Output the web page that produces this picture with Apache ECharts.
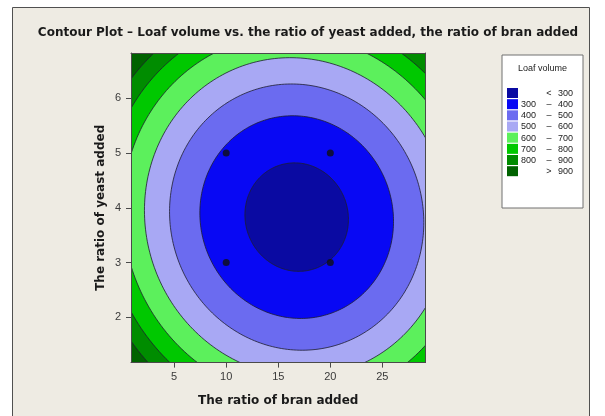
<!DOCTYPE html>
<html>
<head>
<meta charset="utf-8">
<script src="https://cdn.jsdelivr.net/npm/echarts@6/dist/echarts.min.js"></script>
<style>
  html, body { margin: 0; padding: 0; background: #ffffff; }
  #chart { width: 605px; height: 416px; }
</style>
</head>
<body>
<div id="chart"></div>
<script>
// Loaf volume contour levels (upper edge of each band)
const bandLevels = [300, 400, 500, 600, 700, 800, 900];
// Band fills, innermost (< 300) to outermost (> 900)
const bandColors = ['#0A0AA2', '#0808F4', '#6B6BF0', '#A8A8F4', '#5CF05C', '#00C800', '#008C00', '#006200'];

// Centre of the closed contours and the half-extent of each level's contour
const centreBran = 16.77;
const centreYeast = 3.83;
const contourHalfBran = [4.97, 9.30, 12.21, 14.62, 16.72, 18.45, 19.95];
const contourHalfYeast = [0.99, 1.85, 2.43, 2.91, 3.33, 3.67, 3.97];
// slight tilt: yeast offset per unit of bran away from the centre
const contourTilt = -0.0082;

// Design runs
const runBran = [10, 20, 10, 20];
const runYeast = [5, 5, 3, 3];

// Axis ranges and tick values
const branRange = [0.858, 29.142];
const yeastRange = [1.172, 6.828];
const branTicks = [5, 10, 15, 20, 25];
const yeastTicks = [2, 3, 4, 5, 6];

const chart = echarts.init(document.getElementById('chart'), null, { renderer: 'canvas' });

const UI_FONT = 'Liberation Sans, Arial, sans-serif';
const HEAD_FONT = 'DejaVu Sans, Verdana, sans-serif';

// contour items: the outer background band first, then each closed contour from the outside in
const contourItems = [{ value: [centreBran, centreYeast, bandLevels.length] }];
for (let k = bandLevels.length - 1; k >= 0; k--) {
  contourItems.push({ value: [centreBran, centreYeast, k] });
}

function bandLabel(i) {
  if (i === 0) return ['', '<', String(bandLevels[0])];
  if (i === bandLevels.length) return ['', '>', String(bandLevels[bandLevels.length - 1])];
  return [String(bandLevels[i - 1]), '\u2013', String(bandLevels[i])];
}

// legend drawn as graphics
const legendX = 502, legendY = 55, legendW = 81, legendH = 153;
const legendGraphics = [
  { type: 'rect', shape: { x: legendX, y: legendY, width: legendW, height: legendH },
    style: { fill: '#ffffff', stroke: '#707070', lineWidth: 1 }, z: 10 },
  { type: 'text', x: legendX + legendW / 2, y: legendY + 14, z: 11,
    style: { text: 'Loaf volume', fill: '#222', font: '9px ' + UI_FONT, textAlign: 'center', textVerticalAlign: 'middle' } }
];
for (let i = 0; i <= bandLevels.length; i++) {
  const rowY = legendY + 33 + i * 11.17;
  const parts = bandLabel(i);
  legendGraphics.push(
    { type: 'rect', shape: { x: legendX + 5, y: rowY, width: 11, height: 10 },
      style: { fill: bandColors[i] }, z: 11 },
    { type: 'text', x: legendX + 34, y: rowY + 5.5, z: 11,
      style: { text: parts[0], fill: '#222', font: '9px ' + UI_FONT, textAlign: 'right', textVerticalAlign: 'middle' } },
    { type: 'text', x: legendX + 47, y: rowY + 5.5, z: 11,
      style: { text: parts[1], fill: '#222', font: '9px ' + UI_FONT, textAlign: 'center', textVerticalAlign: 'middle' } },
    { type: 'text', x: legendX + 71, y: rowY + 5.5, z: 11,
      style: { text: parts[2], fill: '#222', font: '9px ' + UI_FONT, textAlign: 'right', textVerticalAlign: 'middle' } }
  );
}

const frameAxis = {
  show: true,
  z: 6,
  axisLine: { show: true, onZero: false, lineStyle: { color: '#4a4a4a', width: 1 } },
  axisTick: { show: false },
  axisLabel: { show: false },
  splitLine: { show: false }
};

const option = {
  animation: false,
  backgroundColor: '#ffffff',
  graphic: [
    { type: 'rect', shape: { x: 12.5, y: 7.5, width: 577, height: 420 },
      style: { fill: '#EEEBE3', stroke: '#505050', lineWidth: 1 }, z: 0 },
    { type: 'text', x: 308, y: 33, z: 1,
      style: { text: 'Contour Plot \u2013 Loaf volume vs. the ratio of yeast added, the ratio of bran added',
        fill: '#1a1a1a', font: 'bold 12px ' + HEAD_FONT, textAlign: 'center', textVerticalAlign: 'middle' } }
  ].concat(legendGraphics),
  grid: { left: 131, right: 179.5, top: 53, bottom: 53.4, containLabel: false },
  xAxis: [
    {
      type: 'value', min: branRange[0], max: branRange[1], position: 'bottom', z: 6,
      name: 'The ratio of bran added', nameLocation: 'middle', nameGap: 32,
      nameTextStyle: { color: '#1a1a1a', fontFamily: HEAD_FONT, fontWeight: 'bold', fontSize: 12 },
      axisLine: { show: true, onZero: false, lineStyle: { color: '#4a4a4a', width: 1 } },
      axisTick: { show: true, length: 5, lineStyle: { color: '#4a4a4a' }, customValues: branTicks },
      axisLabel: { show: true, margin: 9, color: '#3a3a3a', fontFamily: UI_FONT, fontSize: 11, customValues: branTicks },
      splitLine: { show: false }
    },
    Object.assign({ type: 'value', min: branRange[0], max: branRange[1], position: 'top' }, frameAxis)
  ],
  yAxis: [
    {
      type: 'value', min: yeastRange[0], max: yeastRange[1], position: 'left', z: 6,
      name: 'The ratio of yeast added', nameLocation: 'middle', nameGap: 24,
      nameTextStyle: { color: '#1a1a1a', fontFamily: HEAD_FONT, fontWeight: 'bold', fontSize: 12 },
      axisLine: { show: true, onZero: false, lineStyle: { color: '#4a4a4a', width: 1 } },
      axisTick: { show: true, length: 5, lineStyle: { color: '#4a4a4a' }, customValues: yeastTicks },
      axisLabel: { show: true, margin: 10, color: '#3a3a3a', fontFamily: UI_FONT, fontSize: 11, customValues: yeastTicks },
      splitLine: { show: false }
    },
    Object.assign({ type: 'value', min: yeastRange[0], max: yeastRange[1], position: 'right' }, frameAxis)
  ],
  series: [
    {
      type: 'custom',
      xAxisIndex: 0, yAxisIndex: 0,
      clip: true,
      z: 2,
      encode: { x: 0, y: 1 },
      data: contourItems,
      renderItem: function (params, api) {
        const k = api.value(2);
        const cs = params.coordSys;
        if (k === bandLevels.length) {
          return { type: 'rect', shape: { x: cs.x, y: cs.y, width: cs.width, height: cs.height },
            style: { fill: bandColors[k] } };
        }
        const pts = [];
        const n = 260;
        for (let s = 0; s < n; s++) {
          const t = (s / n) * Math.PI * 2;
          const dBran = contourHalfBran[k] * Math.cos(t);
          const bran = centreBran + dBran;
          const yeast = centreYeast + contourHalfYeast[k] * Math.sin(t) + contourTilt * dBran;
          pts.push(api.coord([bran, yeast]));
        }
        return { type: 'polygon', shape: { points: pts },
          style: { fill: bandColors[k], stroke: '#1e1e2e', lineWidth: 0.8 } };
      }
    },
    {
      type: 'scatter',
      xAxisIndex: 0, yAxisIndex: 0,
      z: 4,
      symbol: 'circle',
      symbolSize: 7,
      itemStyle: { color: '#101010' },
      data: runBran.map(function (b, i) { return [b, runYeast[i]]; })
    }
  ]
};

chart.setOption(option);
</script>
</body>
</html>
